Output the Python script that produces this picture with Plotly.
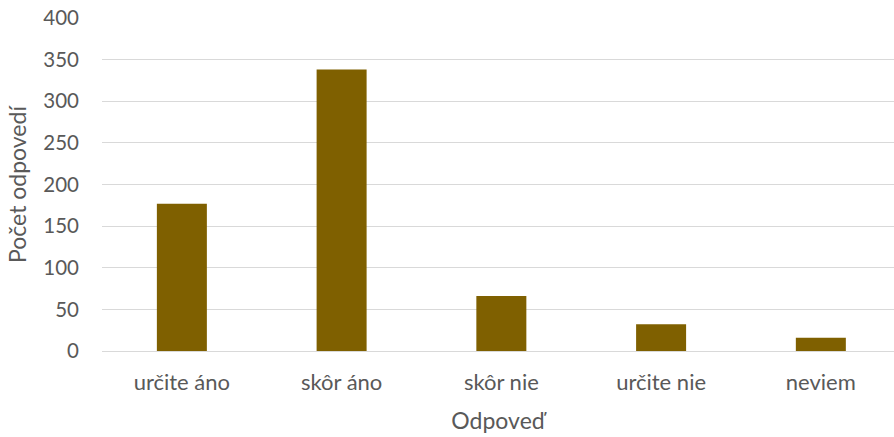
import plotly.graph_objects as go

categories = ["určite áno", "skôr áno", "skôr nie", "určite nie", "neviem"]
values = [177, 338, 66, 32, 16]
y_ticks = [0, 50, 100, 150, 200, 250, 300, 350, 400]

fig = go.Figure(go.Bar(
    x=categories, y=values,
    marker=dict(color="#7F6000", line=dict(width=0)),
))

FAM = "Lato, 'Open Sans', sans-serif"
GREY = "#595959"

fig.update_layout(
    width=894, height=437,
    margin=dict(l=102, r=0, t=18, b=86),
    paper_bgcolor="white", plot_bgcolor="white",
    bargap=0.687,
    font=dict(family=FAM, size=19, color=GREY),
    showlegend=False,
    xaxis=dict(
        range=[-0.5, 4.458], automargin=False,
        showgrid=False, showline=False, zeroline=False,
        ticks="", tickfont=dict(family=FAM, size=22, color=GREY), ticklabelstandoff=16,
        title=dict(text="Odpoveď", font=dict(family=FAM, size=23, color=GREY), standoff=18),
    ),
    yaxis=dict(
        range=[0, 400], tickvals=y_ticks, automargin=False,
        showgrid=True, gridcolor="#D9D9D9", gridwidth=1,
        zeroline=True, zerolinecolor="#D9D9D9", zerolinewidth=1,
        showline=False, ticks="", tickfont=dict(family=FAM, size=20.5, color=GREY), ticklabelstandoff=22,
        title=dict(text="Počet odpovedí", font=dict(family=FAM, size=23, color=GREY), standoff=10),
    ),
)

fig.write_html("out.html", config={"displayModeBar": False},
               post_script="document.body.style.margin='0px';")
